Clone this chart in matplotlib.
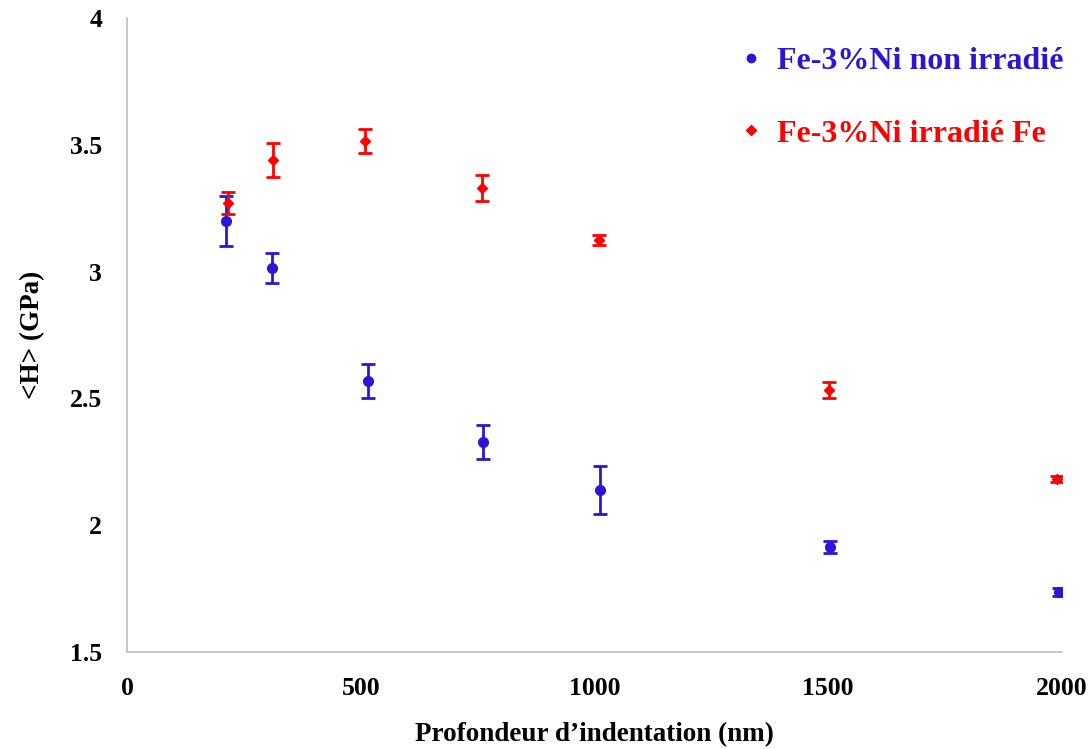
import numpy as np
import matplotlib
matplotlib.use("Agg")
import matplotlib.pyplot as plt
from matplotlib.lines import Line2D

plt.rcParams['font.family'] = ['Liberation Serif', 'DejaVu Serif']
plt.rcParams['font.weight'] = 'bold'

# Fe-3%Ni non irradié
depth_ref = [212, 310, 515, 761, 1012, 1504, 1994]
h_ref = [3.20, 3.014, 2.569, 2.328, 2.139, 1.914, 1.737]
err_ref = [0.10, 0.06, 0.068, 0.066, 0.095, 0.025, 0.015]

# Fe-3%Ni irradié Fe
depth_irr = [216, 312, 509, 759, 1010, 1502, 1989]
h_irr = [3.27, 3.44, 3.515, 3.33, 3.125, 2.533, 2.182]
err_irr = [0.043, 0.067, 0.046, 0.05, 0.02, 0.033, 0.012]

labels = ['Fe-3%Ni non irradié', 'Fe-3%Ni irradié Fe']
blue = '#2E14D6'
red = '#FF0000'

fig = plt.figure(figsize=(10.88, 7.49), dpi=100)
ax = fig.add_axes([127/1088, 1-652/749, (1062-127)/1088, (652-18)/749])

ax.errorbar(depth_ref, h_ref, yerr=err_ref, fmt='o', color=blue, ms=7,
            elinewidth=2, capsize=5, capthick=2)
ax.errorbar(depth_irr, h_irr, yerr=err_irr, fmt='D', color=red, ms=5.5,
            elinewidth=2, capsize=5, capthick=2)

ax.set_xlim(0, 2000)
ax.set_ylim(1.5, 4)
ax.set_xticks([0, 500, 1000, 1500, 2000])
ax.set_yticks([1.5, 2, 2.5, 3, 3.5, 4])
ax.set_yticklabels(['1.5', '2', '2.5', '3', '3.5', '4'])

for s in ['top', 'right']:
    ax.spines[s].set_visible(False)
for s in ['left', 'bottom']:
    ax.spines[s].set_color('#BFBFBF')
    ax.spines[s].set_linewidth(1.2)
ax.tick_params(length=0, labelsize=18.5)
ax.tick_params(axis='x', pad=18)
ax.tick_params(axis='y', pad=18)
for lab in ax.get_xticklabels() + ax.get_yticklabels():
    lab.set_fontweight('bold')

ax.set_xlabel("Profondeur d\u2019indentation (nm)", fontsize=19.5, fontweight='bold', labelpad=16)
ax.set_ylabel("<H> (GPa)", fontsize=19.5, fontweight='bold', labelpad=18)

handles = [Line2D([], [], marker='o', ls='none', color=blue, ms=6),
           Line2D([], [], marker='D', ls='none', color=red, ms=5)]
leg = ax.legend(handles, labels, loc='upper right', bbox_to_anchor=(1.032, 1.0),
                frameon=False, fontsize=23, handletextpad=0.3, labelspacing=1.35,
                handlelength=1.0)
for txt, c in zip(leg.get_texts(), [blue, red]):
    txt.set_color(c)
    txt.set_fontweight('bold')

fig.savefig('out.png', dpi=100)
